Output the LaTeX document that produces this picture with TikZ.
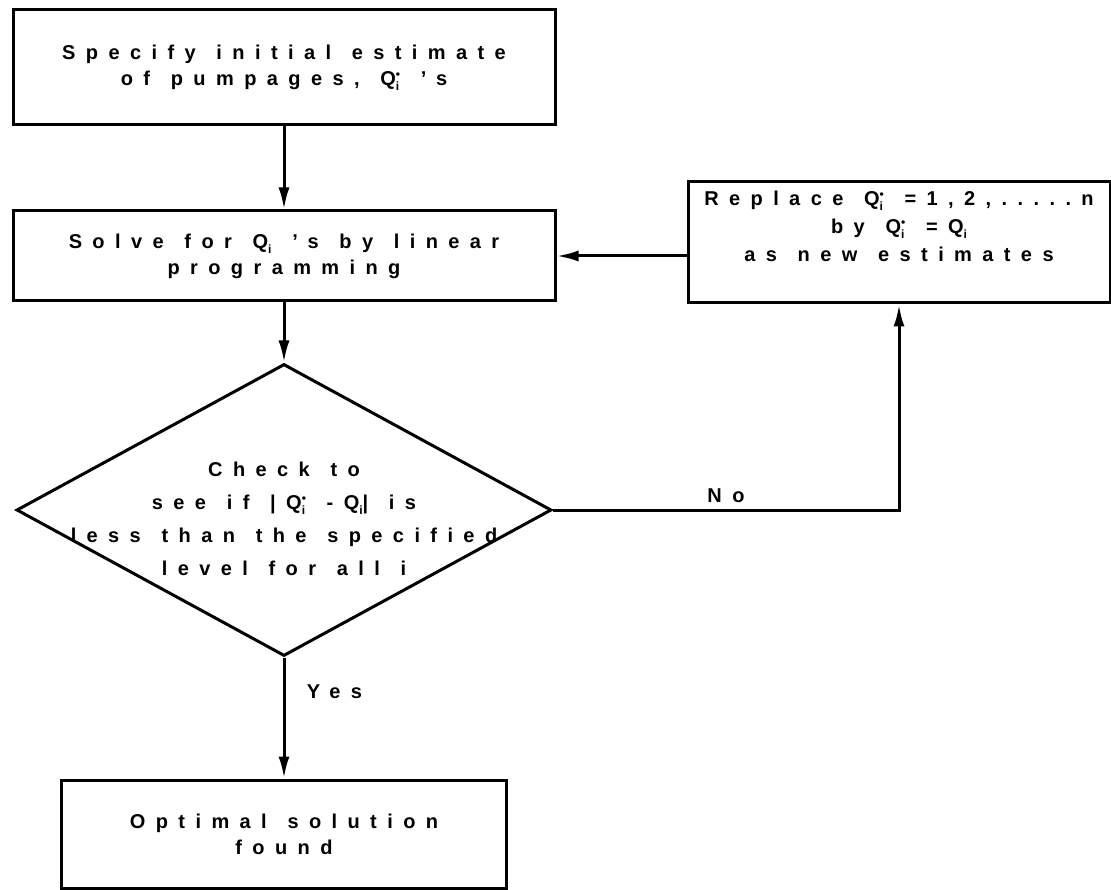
\documentclass[tikz,border=0pt]{standalone}
\usepackage{fontspec}
\setmainfont{Liberation Sans}[LetterSpace=52,WordSpace=1.3]
\usetikzlibrary{arrows.meta,shapes.geometric}
\newcommand{\Qstar}{Q\raisebox{-5pt}{\fontsize{12}{12.5}\selectfont\shortstack[l]{•\\i}}}
\newcommand{\Qsub}{Q\raisebox{-5pt}{\fontsize{12}{12.5}\selectfont i}}
\begin{document}
\begin{tikzpicture}[x=1pt,y=-1pt,
    txt/.style={font=\fontsize{20}{26}\selectfont\bfseries},
    procbox/.style={draw,line width=3pt,align=center,inner sep=0pt,txt},
    flow/.style={line width=3pt,-{Latex[length=22pt,width=11pt]}}]
  \useasboundingbox (0,0) rectangle (1111,890);
  \node[procbox,minimum width=542pt,minimum height=115pt](spec) at(284,67.5)
    {Specify initial estimate\\of pumpages, \Qstar\ 's};
  \node[procbox,minimum width=542pt,minimum height=90pt](solve) at(284,256)
    {Solve for \Qsub\ 's by linear\\programming};
  \node[draw,diamond,line width=3pt,inner sep=0pt,minimum width=535pt,minimum height=292pt,
    label={[txt,align=center,font=\fontsize{20}{33}\selectfont\bfseries,yshift=-9pt]center:{Check to\\see if |\Qstar\ -\Qsub| is\\less than the specified\\level for all i}}](check) at(284,510) {};
  \node[procbox,minimum width=422pt,minimum height=121pt,
    label={[txt,align=center,font=\fontsize{20}{28}\selectfont\bfseries,yshift=16pt]center:{Replace \Qstar\ =1,2,.....n\\by \Qstar\ =\Qsub\\as new estimates}}](replace) at(899,242.5) {};
  \node[procbox,minimum width=445pt,minimum height=108pt](found) at(284,834)
    {Optimal solution\\found};
  \draw[flow](spec.south)--(solve.north);
  \draw[flow](solve.south)--(check.north);
  \draw[flow](check.south)--node[txt,right,pos=0.28,xshift=18pt]{Yes}(found.north);
  \draw[flow](check.east)--node[txt,above,yshift=2pt]{No}(check.east-|replace.south)--(replace.south);
  \draw[flow](replace.west|-solve.east)--(solve.east);
\end{tikzpicture}
\end{document}
